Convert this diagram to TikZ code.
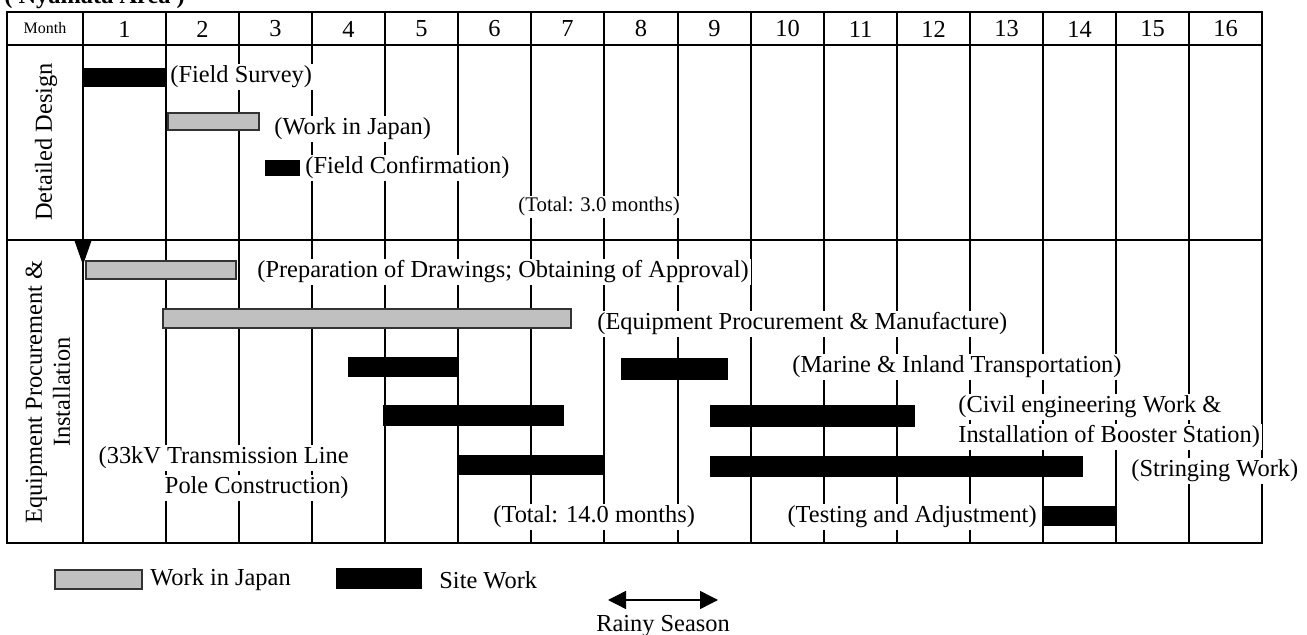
\documentclass[tikz,border=0pt]{standalone}
\usepackage{fontspec}
\setmainfont{Liberation Serif}
\usetikzlibrary{arrows.meta, positioning, fit}

\definecolor{japangray}{RGB}{192,192,192}

\begin{document}
\begin{tikzpicture}[
        x=0.5pt, y=-0.5pt,
        grid/.style={line width=1pt},
        hdr/.style={font=\fontsize{12.2}{14}\selectfont},
        lbl/.style={fill=white, inner sep=1pt, anchor=west, font=\fontsize{12.2}{14}\selectfont},
        smalllbl/.style={fill=white, inner sep=1pt, anchor=west, font=\fontsize{10.4}{12}\selectfont},
        phase/.style={rotate=90, align=center, font=\fontsize{12.2}{14}\selectfont},
        japanbar/.style={draw=black!80, line width=0.8pt, fill=japangray, inner sep=0pt},
        sitebar/.style={fill=black, inner sep=0pt}
    ]
    \useasboundingbox (0,0) rectangle (1307,635);
    \clip (0,0) rectangle (1307,635);

    % Area heading
    \node [anchor=base west, inner sep=0pt, font=\bfseries\fontsize{12.2}{14}\selectfont] (area) at (4,4) {( Nyamata Area )};

    % Table frame
    \draw [grid] (7,12) rectangle (1262,543);
    \draw [grid] (7,45) -- (1262,45);
    \draw [grid] (7,240) -- (1262,240);

    % Month columns
    \node [font=\fontsize{8}{10}\selectfont] (month) at (45,28) {Month};
    \foreach \l/\r [count=\m] in {83/166, 166/239, 239/312, 312/385, 385/458, 458/531, 531/604, 604/678,
                                  678/751, 751/824, 824/897, 897/970, 970/1043, 1043/1116, 1116/1189, 1189/1262} {
        \draw [grid] (\l,12) -- (\l,543);
        \node [hdr] (m\m) at ({(\l+\r)/2},29) {\m};
    }

    % Phases
    \node [phase] (design) at (46,142) {Detailed Design};
    \node [phase] (install) at (48,392) {Equipment Procurement \&\\ Installation};

    % Detailed Design
    \node [sitebar, fit={(83,68) (166,87)}] (survey) {};
    \node [lbl] (surveylbl) at (168,77) {(Field Survey)};
    \node [japanbar, fit={(168,113) (259,130)}] (japan) {};
    \node [lbl] (japanlbl) at (272,129) {(Work in Japan)};
    \node [sitebar, fit={(265,160) (300,176)}] (confirm) {};
    \node [lbl] (confirmlbl) at (303,168) {(Field Confirmation)};
    \node [smalllbl] (total1) at (516,207) {(Total: 3.0 months)};

    % start of procurement
    \coordinate (kickoff) at (83,240);
    \coordinate (kickoff-tip) at (83,265);
    \draw [line width=1pt, -{Triangle[width=8.5pt, length=12.5pt]}] (kickoff) -- (kickoff-tip);

    % Equipment Procurement & Installation
    \node [japanbar, fit={(86,261) (236,279)}] (drawings) {};
    \node [lbl] (drawingslbl) at (255,272) {(Preparation of Drawings; Obtaining of Approval)};
    \node [japanbar, fit={(163,309) (571,328)}] (manufacture) {};
    \node [lbl] (manufacturelbl) at (595,324) {(Equipment Procurement \& Manufacture)};

    \node [sitebar, fit={(348,357) (458,377)}] (transport1) {};
    \node [sitebar, fit={(621,358) (728,380)}] (transport2) {};
    \node [lbl] (transportlbl) at (790,367) {(Marine \& Inland Transportation)};

    \node [sitebar, fit={(383,405) (564,426)}] (civil1) {};
    \node [sitebar, fit={(710,405) (915,427)}] (civil2) {};
    \node [lbl] (civillbl) at (956,407) {(Civil engineering Work \&};
    \node [lbl] (boosterlbl) at (956,437) {Installation of Booster Station)};

    \node [sitebar, fit={(458,455) (603,475)}] (pole) {};
    \node [lbl, anchor=east] (polelbl1) at (351,458) {(33kV Transmission Line};
    \node [lbl, anchor=east] (polelbl2) at (351,488) {Pole Construction)};
    \node [sitebar, fit={(710,456) (1083,477)}] (stringing) {};
    \node [lbl] (stringinglbl) at (1129,471) {(Stringing Work)};

    \node [lbl, anchor=east] (testinglbl) at (1039,517) {(Testing and Adjustment)};
    \node [sitebar, fit={(1042,506) (1117,526)}] (testing) {};
    \node [lbl] (total2) at (491,517) {(Total: 14.0 months)};

    % Legend
    \node [japanbar, fit={(55,570) (142,589)}] (keyjapan) {};
    \node [lbl, fill=none] (keyjapanlbl) at (148,580) {Work in Japan};
    \node [sitebar, fit={(336,568) (422,589)}] (keysite) {};
    \node [lbl, fill=none] (keysitelbl) at (437,580) {Site Work};

    % Rainy season
    \coordinate (rainy-a) at (608,600);
    \coordinate (rainy-b) at (718,600);
    \draw [line width=0.7pt, {Triangle[width=9pt, length=9pt]}-{Triangle[width=9pt, length=9pt]}] (rainy-a) -- (rainy-b);
    \node [font=\fontsize{12.2}{14}\selectfont, inner sep=0pt] (rainy) at (663,626) {Rainy Season};

    \end{tikzpicture}
\end{document}
